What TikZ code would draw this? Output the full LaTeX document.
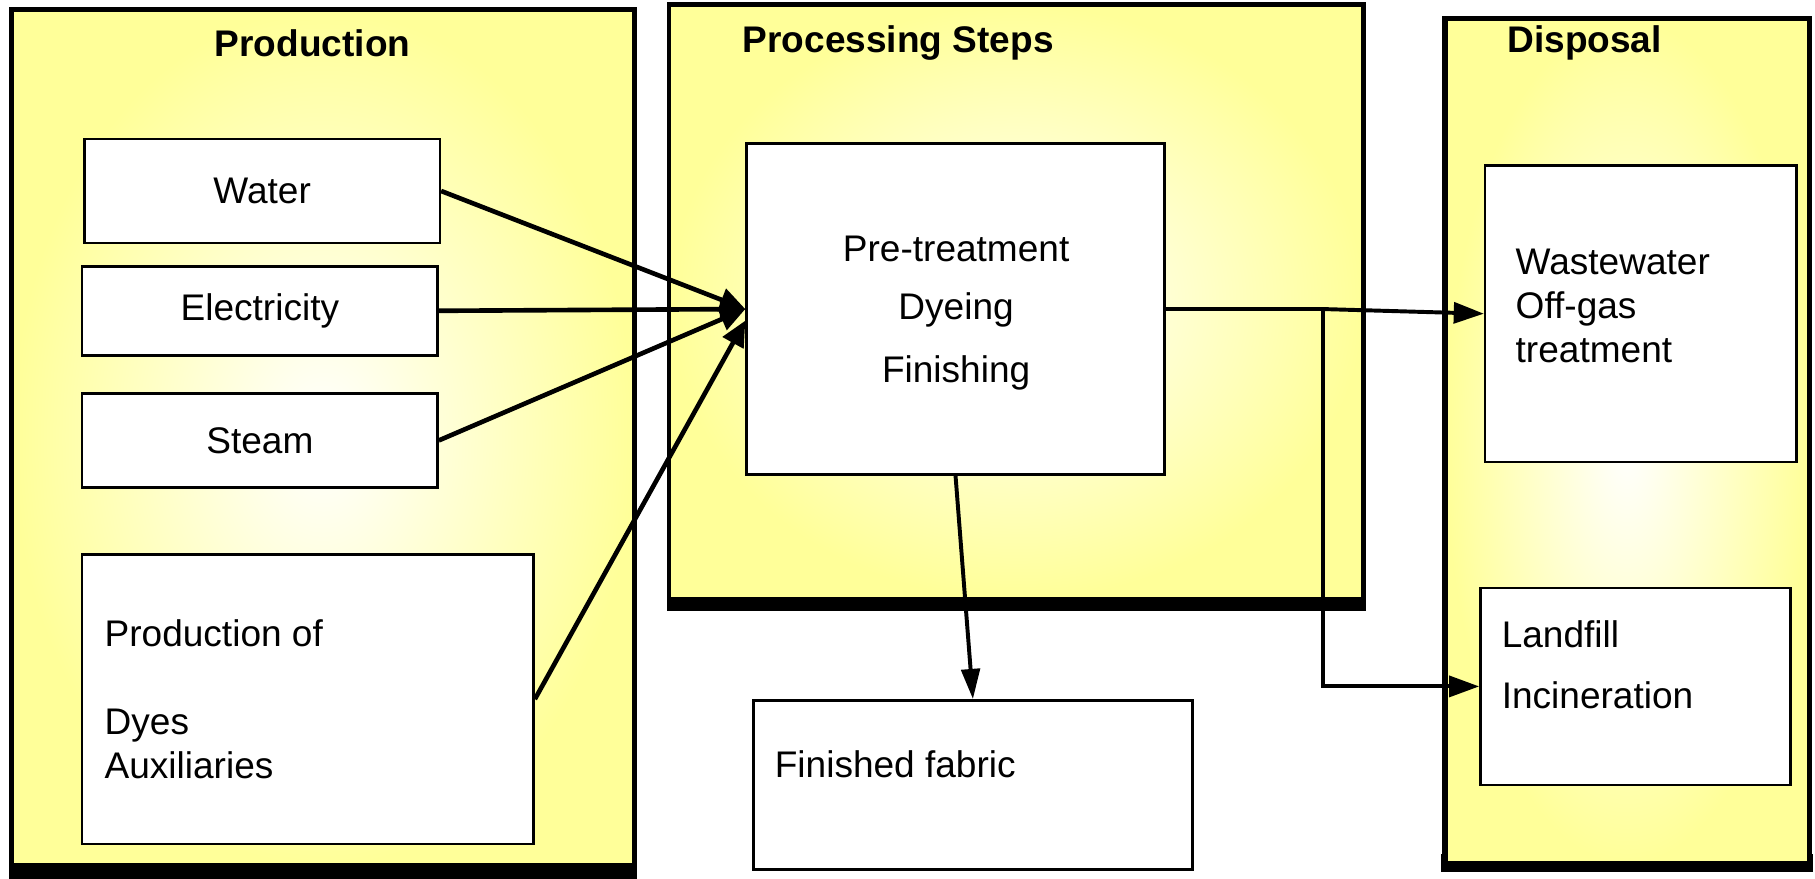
\documentclass[tikz,border=0pt]{standalone}
\usepackage{fontspec}
\setmainfont{Liberation Sans}
\usetikzlibrary{arrows.meta,fit}
\definecolor{yel}{RGB}{255,255,153}
\begin{document}
\begin{tikzpicture}[x=0.5pt,y=-0.5pt,
  every node/.style={font=\fontsize{16}{19}\selectfont},
  grp/.style={draw=black, line width=2.1pt, inner sep=0pt, shade, inner color=white, outer color=yel},
  wbox/.style={draw=black, fill=white, line width=1.1pt, inner sep=0pt},
  ttl/.style={font=\fontsize{16}{19}\selectfont\bfseries},
  ltxt/.style={anchor=west, inner sep=0pt, align=left},
  bar/.style={fill=black},
  inarr/.style={line width=2pt, -{Triangle[length=11pt,width=10pt]}},
  outline/.style={line width=1.7pt},
  outarr/.style={line width=1.7pt, -{Triangle[length=13pt,width=9pt]}},
  fabarr/.style={line width=1.7pt, -{Triangle[length=13pt,width=8pt]}}]
\useasboundingbox (0,0) rectangle (1568,759);

% group frames
\fill[bar] (8,738) rectangle (550,759);
\node[grp, fit={(10,8) (548,748)}] (prod) {};
\fill[bar] (576,510) rectangle (1180,528);
\node[grp, fit={(578,4) (1178,518)}] (proc) {};
\fill[bar] (1245,738) rectangle (1566,753);
\node[grp, fit={(1248,16) (1563,746)}] (disp) {};
\draw[line width=2pt] (1249,16) -- (1249,746);

% titles
\node[ttl] (prodT) at (270,37) {Production};
\node[ttl] (procT) at (776,37) {Processing Steps};
\node[ttl] (dispT) at (1369,37) {Disposal};

% production boxes
\node[wbox, fit={(73,120) (380,210)}] (water) {};
\node (waterT) at (water.center) {Water};
\node[wbox, fit={(71,230) (378,307)}] (elec) {};
\node (elecT) at (elec.center) {Electricity};
\node[wbox, fit={(71,340) (378,421)}] (steam) {};
\node (steamT) at (steam.center) {Steam};
\node[wbox, fit={(71,479) (461,729)}] (dyes) {};
\node[ltxt] (dyesT1) at (90,547) {Production of};
\node[ltxt] (dyesT2) at (90,643) {Dyes\\Auxiliaries};

% processing
\node[wbox, fit={(645,124) (1006,410)}] (pre) {};
\node (preT1) at (826,215) {Pre-treatment};
\node (preT2) at (826,268) {Dyeing};
\node (preT3) at (826,322) {Finishing};
\node[wbox, fit={(651,605) (1030,751)}] (fab) {};
\node[ltxt] (fabT) at (669,660) {Finished fabric};

% disposal
\node[wbox, fit={(1283,143) (1552,399)}] (waste) {};
\node[ltxt] (wasteT) at (1309,264) {Wastewater\\Off-gas\\treatment};
\node[wbox, fit={(1279,508) (1547,678)}] (land) {};
\node[ltxt] (landT1) at (1297,548) {Landfill};
\node[ltxt] (landT2) at (1297,601) {Incineration};

% connectors
\draw[inarr] (water.east) -- (pre.west);
\draw[inarr] (elec.east) -- (pre.west);
\draw[inarr] (steam.east) -- (pre.west);
\draw[inarr] (dyes.east) -- ([yshift=-5pt]pre.west);
\draw[fabarr] (pre.south) -- (fab.north);
\coordinate (j) at (1143,267);
\draw[outline] (pre.east) -- (j);
\draw[outarr] (j) -- (waste.west);
\draw[outarr] (j) |- (land.west);
\end{tikzpicture}
\end{document}
